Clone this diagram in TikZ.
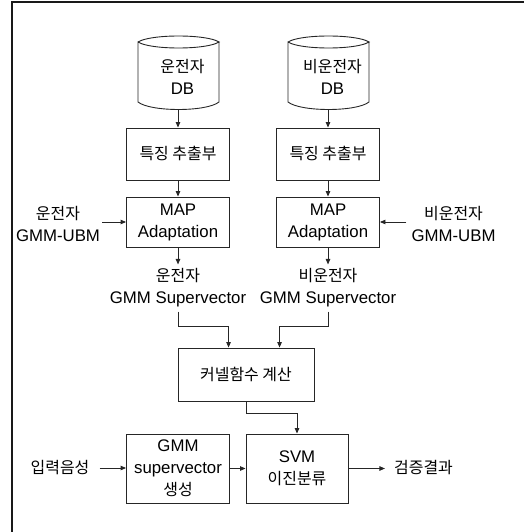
\documentclass[tikz,border=0pt]{standalone}
\usepackage{fontspec}
\setmainfont{Liberation Sans}
\newfontfamily\kr[Scale=0.95]{Noto Sans CJK KR}
\usetikzlibrary{arrows.meta,calc}
\newcommand\myfs{\fontsize{16.8}{22}\selectfont}
\begin{document}
\begin{tikzpicture}[x=1pt,y=-1pt,
  ln/.style={draw=black!85, line width=0.9pt},
  box/.style={ln, minimum width=103pt, inner sep=0pt, align=center, font=\myfs},
  lbl/.style={align=center, inner sep=0pt, font=\myfs},
  arr/.style={ln, -{Triangle[length=5.5pt,width=4.5pt]}}]
\useasboundingbox (0,0) rectangle (524,532);
\draw[line width=1.3pt, black!90] (12,532) -- (12,2) -- (524,2);
% cylinders
\foreach \cx/\nm in {178.5/c1, 328.5/c2}{
  \draw[ln] (\cx-40.5,42) .. controls (\cx-28,34) and (\cx+28,34) .. (\cx+40.5,42)
     .. controls (\cx+28,50) and (\cx-28,50) .. (\cx-40.5,42) -- (\cx-40.5,102)
     .. controls (\cx-28,112) and (\cx+28,112) .. (\cx+40.5,102) -- (\cx+40.5,42);
}
\coordinate (db1b) at (178,110);
\coordinate (db2b) at (328,110);
\node[lbl] (db1) at (182.5,77) {{\kr 운전자}\\DB};
\node[lbl] (db2) at (332.5,77) {{\kr 비운전자}\\DB};
% feature boxes
\node[box, minimum height=52pt] (feat1) at (178,154) {{\kr 특징 추출부}};
\node[box, minimum height=52pt] (feat2) at (328,154) {{\kr 특징 추출부}};
\draw[arr] (db1b) -- (db1b |- feat1.north);
\draw[arr] (db2b) -- (db2b |- feat2.north);
% MAP boxes
\node[box, minimum height=50pt] (map1) at (178,222) {MAP\\Adaptation};
\node[box, minimum height=50pt] (map2) at (328,222) {MAP\\Adaptation};
\draw[arr] (feat1.south) -- (map1.north);
\draw[arr] (feat2.south) -- (map2.north);
% UBM inputs
\node[lbl, inner xsep=2pt] (ubm1) at (58,224) {{\kr 운전자}\\GMM-UBM};
\node[lbl, inner xsep=5pt] (ubm2) at (453.5,224) {{\kr 비운전자}\\GMM-UBM};
\draw[arr] (ubm1.east |- map1.west) -- (map1.west);
\draw[arr] (ubm2.west |- map2.east) -- (map2.east);
% supervector labels
\node[lbl, inner ysep=4pt] (sv1) at (178,288) {{\kr 운전자}\\GMM Supervector};
\node[lbl, inner ysep=4pt] (sv2) at (328,288) {{\kr 비운전자}\\GMM Supervector};
\draw[arr] (map1.south) -- (map1.south |- sv1.north);
\draw[arr] (map2.south) -- (map2.south |- sv2.north);
% kernel
\node[box, minimum width=136pt, minimum height=53pt] (kern) at (246,374.5) {{\kr 커넬함수 계산}};
\draw[arr] (sv1.south) -- ++(0,15) -| ($(kern.north west)+(51,0)$);
\draw[arr] (sv2.south) -- ++(0,15) -| ($(kern.north west)+(102,0)$);
% bottom row
\node[box, minimum height=69pt] (gmm) at (178,468.5) {GMM\\supervector\\{\kr 생성}};
\node[box, minimum width=102pt, minimum height=69pt] (svm) at (297,468.5) {SVM\\{\kr 이진분류}};
\draw[arr] (kern.south) -- ++(0,12) -| (svm.north);
\node[lbl, inner xsep=10pt] (inp) at (60,468) {{\kr 입력음성}};
\node[lbl, inner xsep=9pt] (out) at (423.5,468) {{\kr 검증결과}};
\draw[arr] (inp.east) -- (inp.east -| gmm.west);
\draw[arr] (gmm.east) -- (svm.west);
\draw[arr] (svm.east) -- (svm.east -| out.west);
\end{tikzpicture}
\end{document}
